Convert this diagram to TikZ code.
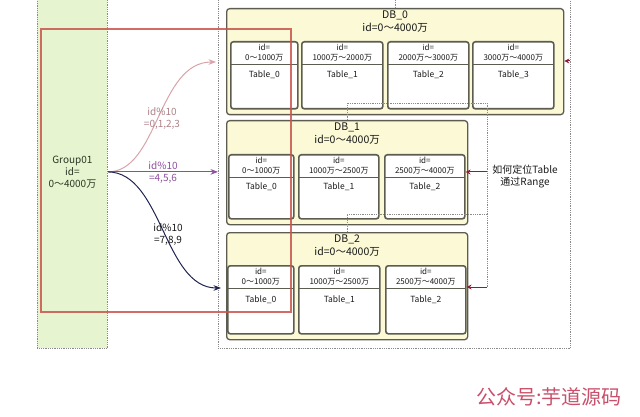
\documentclass[tikz,border=0pt]{standalone}
\usepackage{fontspec}
\setmainfont{Noto Sans CJK SC}
\usepackage{tikz}
\usetikzlibrary{arrows.meta,positioning,calc}
\definecolor{dbfill}{HTML}{FBF9D6}
\definecolor{dbline}{HTML}{5C5D50}
\definecolor{grpfill}{HTML}{E6F5D0}
\definecolor{grptext}{HTML}{2C3622}
\definecolor{zoneline}{HTML}{8A8A8A}
\definecolor{redbox}{HTML}{C8544C}
\definecolor{routeA}{HTML}{D9A3AA}
\definecolor{routeB}{HTML}{8E4F9E}
\definecolor{routeC}{HTML}{1F2452}
\definecolor{locate}{HTML}{8E1D33}
\definecolor{wmark}{HTML}{C9506A}

\begin{document}
\begin{tikzpicture}[x=1pt,y=-1pt, >=Stealth,
  zone/.style={draw=zoneline,densely dotted,line width=0.8pt,anchor=north west,inner sep=0pt},
  dbbox/.style={draw=dbline,fill=dbfill,rounded corners=3pt,line width=1.3pt,anchor=north west,inner sep=0pt},
  tblbox/.style={draw=dbline,fill=white,rounded corners=2.5pt,line width=1.6pt,anchor=north west,inner sep=0pt},
  hdr/.style={anchor=north,align=center,font=\fontsize{8}{10}\selectfont,text=black!90,inner sep=0pt,minimum height=23pt},
  ttl/.style={anchor=north,align=center,font=\fontsize{10.5}{13}\selectfont,text=black!90,inner sep=3pt},
  tname/.style={font=\fontsize{8.5}{10}\selectfont,text=black!90,inner sep=0pt},
  lbl/.style={align=center,font=\fontsize{10}{12}\selectfont},
  dotline/.style={draw=zoneline,densely dotted,line width=0.8pt},
  route/.style={->,line width=1pt},
  loc/.style={-{Stealth[length=5pt,width=5pt]},locate,line width=1pt}]
\useasboundingbox (0,0) rectangle (640,417);

% group column and database zone
\node[zone,fill=grpfill,minimum width=70pt,minimum height=353pt,align=center,
  font=\fontsize{10}{12}\selectfont,text=grptext] (grp) at (37,-5) {Group01\\id=\\0～4000万};
\node[zone,minimum width=352pt,minimum height=353pt] (dbzone) at (218,-5) {};

% databases
\node[dbbox,minimum width=337pt,minimum height=106pt] (db0) at (226,8) {};
\node[ttl] (db0l) at (db0.north) {DB\_0\\id=0～4000万};
\node[dbbox,minimum width=241pt,minimum height=104pt] (db1) at (226,120) {};
\node[ttl] (db1l) at (db1.north) {DB\_1\\id=0～4000万};
\node[dbbox,minimum width=241pt,minimum height=107pt] (db2) at (226,232) {};
\node[ttl] (db2l) at (db2.north) {DB\_2\\id=0～4000万};

% tables
\foreach \n/\x/\w/\rg in {0/230/67/0～1000万,1/301/81/1000万～2000万,2/387/81/2000万～3000万,3/472/81/3000万～4000万}{
  \node[tblbox,minimum width=\w pt,minimum height=67pt] (db0t\n) at (\x,41) {};
  \node[hdr,minimum width=\w pt] (db0h\n) at (db0t\n.north) {id=\\\rg};
  \draw[dbline,line width=1.3pt] (db0h\n.south west) -- (db0h\n.south east);
  \node[tname,below=6pt of db0h\n] {Table\_\n};
}
\foreach \n/\x/\w/\rg in {0/228/65/0～1000万,1/298/80/1000万～2500万,2/384/80/2500万～4000万}{
  \node[tblbox,minimum width=\w pt,minimum height=64pt] (db1t\n) at (\x,154) {};
  \node[hdr,minimum width=\w pt] (db1h\n) at (db1t\n.north) {id=\\\rg};
  \draw[dbline,line width=1.3pt] (db1h\n.south west) -- (db1h\n.south east);
  \node[tname,below=5pt of db1h\n] {Table\_\n};
}
\foreach \n/\x/\w/\rg in {0/227/66/0～1000万,1/298/81/1000万～2500万,2/385/80/2500万～4000万}{
  \node[tblbox,minimum width=\w pt,minimum height=68pt] (db2t\n) at (\x,265) {};
  \node[hdr,minimum width=\w pt] (db2h\n) at (db2t\n.north) {id=\\\rg};
  \draw[dbline,line width=1.3pt] (db2h\n.south west) -- (db2h\n.south east);
  \node[tname,below=7pt of db2h\n] {Table\_\n};
}

% routing by id%10
\coordinate (in0) at (216,62);
\coordinate (in2) at (221,288);
\draw[route,routeA] (grp.east) .. controls (158,172) and (158,62) .. (in0);
\draw[route,routeB] (grp.east) -- (grp.east -| dbzone.west);
\draw[route,routeC] (grp.east) .. controls (162,172) and (164,288) .. (in2);
\node[lbl,text=routeA!80!black] (ra) at (162,118) {id\%10\\=0,1,2,3};
\node[lbl,text=routeB] (rb) at (163,172) {id\%10\\=4,5,6};
\node[lbl,text=black!90] (rc) at (168,234) {id\%10\\=7,8,9};

% locating the table by range
\coordinate (bus) at (487,103);
\coordinate (bus2) at (487,214);
\coordinate (q0) at (570,61);
\coordinate (q1) at (487,172);
\coordinate (q2) at (487,287);
\draw[dotline] (db0.north) -- ++(0,-15);
\draw[dotline] (db1.north) |- (bus) -- (q2);
\draw[dotline] (db2.north) |- (bus2);
\draw[loc] (q0) -- (q0 -| db0.east);
\draw[loc] (q1) -- (q1 -| db1t2.east);
\draw[loc] (q2) -- (q2 -| db2t2.east);
\node[lbl,text=black!90] (how) at (525,177) {如何定位Table\\通过Range};

% group frame
\node[draw=redbox,line width=1.8pt,opacity=0.85,minimum width=250pt,minimum height=283pt,
  anchor=north west,inner sep=0pt] (grpframe) at (40,28) {};

\node[text=wmark,font=\fontsize{20}{20}\selectfont] (wm) at (549,397) {公众号:芋道源码};
\end{tikzpicture}
\end{document}
